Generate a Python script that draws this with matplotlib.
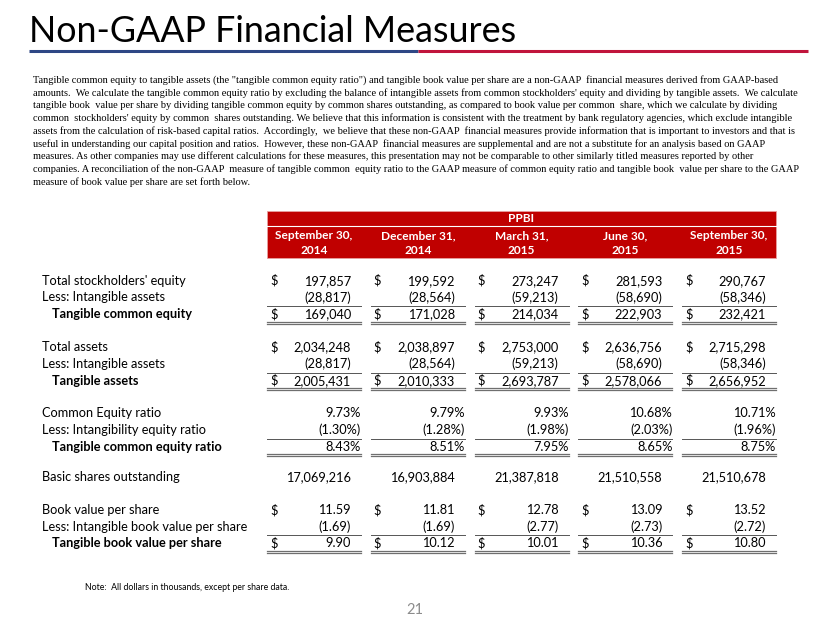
import matplotlib.pyplot as plt
from matplotlib.patches import Rectangle

# data
periods = ["September 30,\n2014", "December 31,\n2014", "March 31,\n2015",
           "June 30,\n2015", "September 30,\n2015"]
equity = [197857, 199592, 273247, 281593, 290767]
intangibles = [-28817, -28564, -59213, -58690, -58346]
tce = [169040, 171028, 214034, 222903, 232421]
total_assets = [2034248, 2038897, 2753000, 2636756, 2715298]
tangible_assets = [2005431, 2010333, 2693787, 2578066, 2656952]
ce_ratio = [9.73, 9.79, 9.93, 10.68, 10.71]
intang_ratio = [-1.30, -1.28, -1.98, -2.03, -1.96]
tce_ratio = [8.43, 8.51, 7.95, 8.65, 8.75]
shares = [17069216, 16903884, 21387818, 21510558, 21510678]
bvps = [11.59, 11.81, 12.78, 13.09, 13.52]
intang_bvps = [-1.69, -1.69, -2.77, -2.73, -2.72]
tbvps = [9.90, 10.12, 10.01, 10.36, 10.80]

paragraph = [
    'Tangible common equity to tangible assets (the "tangible common equity ratio") and tangible book value per share are a non-GAAP  financial measures derived from GAAP-based',
    "amounts.  We calculate the tangible common equity ratio by excluding the balance of intangible assets from common stockholders' equity and dividing by tangible assets.  We calculate",
    "tangible book  value per share by dividing tangible common equity by common shares outstanding, as compared to book value per common  share, which we calculate by dividing",
    "common  stockholders' equity by common  shares outstanding. We believe that this information is consistent with the treatment by bank regulatory agencies, which exclude intangible",
    "assets from the calculation of risk-based capital ratios.  Accordingly,  we believe that these non-GAAP  financial measures provide information that is important to investors and that is",
    "useful in understanding our capital position and ratios.  However, these non-GAAP  financial measures are supplemental and are not a substitute for an analysis based on GAAP",
    "measures. As other companies may use different calculations for these measures, this presentation may not be comparable to other similarly titled measures reported by other",
    "companies. A reconciliation of the non-GAAP  measure of tangible common  equity ratio to the GAAP measure of common equity ratio and tangible book  value per share to the GAAP",
    "measure of book value per share are set forth below.",
]


def money(v, dec=0):
    s = f"{abs(v):,.{dec}f}"
    return f"({s})" if v < 0 else s


def pct(v):
    s = f"{abs(v):.2f}%"
    return f"({s})" if v < 0 else s


# label, values, formatter, dollar sign, bold, line below, y
rows = [
    ("Total stockholders' equity", equity, money, True, False, None, 280.7),
    ("Less: Intangible assets", intangibles, money, False, False, "single", 297.3),
    ("Tangible common equity", tce, money, True, True, "double", 314.0),
    ("Total assets", total_assets, money, True, False, None, 347.3),
    ("Less: Intangible assets", intangibles, money, False, False, "single", 364.0),
    ("Tangible assets", tangible_assets, money, True, True, "double", 380.7),
    ("Common Equity ratio", ce_ratio, pct, False, False, None, 413.3),
    ("Less: Intangibility equity ratio", intang_ratio, pct, False, False, "single", 430.0),
    ("Tangible common equity ratio", tce_ratio, pct, False, True, "double", 446.7),
    ("Basic shares outstanding", shares, money, False, False, None, 476.7),
    ("Book value per share", bvps, lambda v: money(v, 2), True, False, None, 510.0),
    ("Less: Intangible book value per share", intang_bvps, lambda v: money(v, 2), False, False, "single", 526.7),
    ("Tangible book value per share", tbvps, lambda v: money(v, 2), True, True, "double", 543.3),
]

RED = "#c00000"
SANS = "Lato"

fig = plt.figure(figsize=(8.3, 6.23), dpi=100)
ax = fig.add_axes([0, 0, 1, 1])
ax.set_xlim(0, 830)
ax.set_ylim(623, 0)
ax.axis("off")

# title and rule
ax.text(29, 32, "Non-GAAP Financial Measures", fontsize=25.8, family=SANS,
        va="center", ha="left", color="black")
ax.plot([29, 418], [51, 51], color="#2e4785", lw=2.2, solid_capstyle="butt")
ax.plot([418, 808], [51, 51], color="#c0143c", lw=2.2, solid_capstyle="butt")

for i, line in enumerate(paragraph):
    ax.text(33, 80 + 12.75 * i, line, fontsize=7.48, family="Liberation Serif",
            va="center", ha="left", color="black")

# table header
col_left = [267 + 103.75 * i for i in range(5)]
ax.add_patch(Rectangle((267, 211), 509, 47, facecolor=RED, edgecolor="#e8a0a0", lw=0.6))
ax.plot([267, 776], [226, 226], color="white", lw=0.8)
ax.text(521.5, 218.5, "PPBI", fontsize=8.5, family=SANS, weight="bold",
        color="white", ha="center", va="center")
for left, p in zip(col_left, periods):
    ax.text(left + 47, 243, p, fontsize=8.6, family=SANS, weight="bold",
            color="white", ha="center", va="center", linespacing=1.35)

# table body
for label, vals, fmt, dollar, bold, under, y in rows:
    ax.text(52 if bold else 42, y, label, fontsize=9.15, family=SANS,
            weight="bold" if bold else "normal", ha="left", va="center")
    for left, v in zip(col_left, vals):
        right = left + 94 if fmt is pct else left + 84
        ax.text(right, y, fmt(v), fontsize=9.15, family=SANS, ha="right", va="center")
        if dollar:
            ax.text(left + 3, y, "$", fontsize=9.15, family=SANS, ha="left", va="center")
        if under == "single":
            ax.plot([left, left + 94], [y + 8.5, y + 8.5], color="#555555", lw=0.7)
        elif under == "double":
            for dy in (7.7, 9.7):
                ax.plot([left, left + 94], [y + dy, y + dy], color="#6f6f6f", lw=0.9)

ax.text(85, 588, "Note:  All dollars in thousands, except per share data.",
        fontsize=6.3, family=SANS, ha="left", va="center")
ax.text(415, 610, "21", fontsize=10.5, family=SANS, color="#8c8c8c",
        ha="center", va="center")

fig.savefig("out.png", dpi=100)
